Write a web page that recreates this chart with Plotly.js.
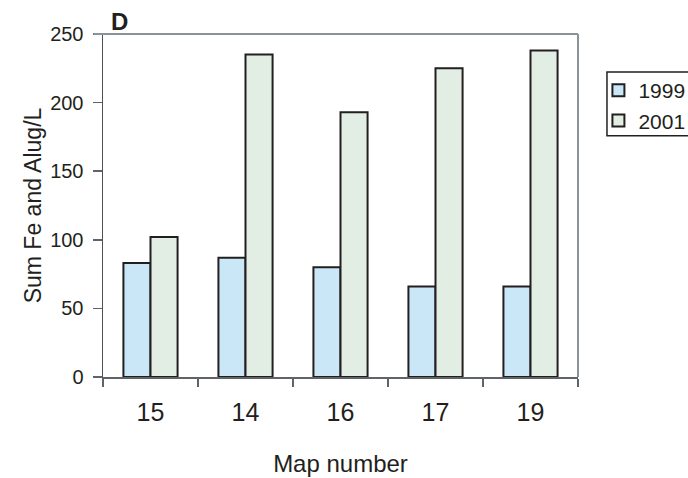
<!DOCTYPE html>
<html>
<head>
<meta charset="utf-8">
<script src="https://cdn.plot.ly/plotly-3.0.1.min.js"></script>
<style>
  html, body { margin: 0; padding: 0; background: #ffffff; }
  #chart { width: 688px; height: 478px; }
</style>
</head>
<body>
<div id="chart"></div>
<script>
// Map numbers (category order as plotted) and summed Fe + Al per year
const mapNumbers = ['15', '14', '16', '17', '19'];
const sum1999 = [83, 87, 80, 66, 66];
const sum2001 = [102, 235, 193, 225, 238];
const seriesNames = ['1999', '2001'];

const font = 'Liberation Sans, Arial, Helvetica, sans-serif';
const ink = '#231f20';

const traces = [
  {
    type: 'bar',
    name: seriesNames[0],
    x: mapNumbers,
    y: sum1999,
    marker: { color: '#c9e7f7', line: { color: '#231f20', width: 2 } }
  },
  {
    type: 'bar',
    name: seriesNames[1],
    x: mapNumbers,
    y: sum2001,
    marker: { color: '#e2ede3', line: { color: '#231f20', width: 2 } }
  }
];

const layout = {
  width: 688,
  height: 478,
  margin: { l: 103, r: 110, t: 34, b: 101, autoexpand: false },
  paper_bgcolor: '#ffffff',
  plot_bgcolor: '#ffffff',
  font: { family: font, color: ink },
  barmode: 'group',
  bargap: 0.43,
  bargroupgap: 0,
  showlegend: true,
  legend: {
    x: 1.043, xanchor: 'left',
    y: 0.895, yanchor: 'top',
    bgcolor: 'rgba(0,0,0,0)',
    borderwidth: 0,
    font: { family: font, size: 21, color: ink },
    tracegroupgap: 0,
    itemwidth: 30
  },
  xaxis: {
    type: 'category',
    showgrid: false,
    zeroline: false,
    showline: true,
    linecolor: '#5f6469',
    linewidth: 1.5,
    ticks: 'outside',
    tickson: 'boundaries',
    ticklen: 8,
    tickcolor: '#5f6469',
    tickwidth: 1.5,
    ticklabelstandoff: 12,
    tickfont: { family: font, size: 25, color: ink },
    title: { text: 'Map number', font: { family: font, size: 24, color: ink }, standoff: 30 },
    automargin: true
  },
  yaxis: {
    range: [0, 250],
    dtick: 50,
    showgrid: false,
    zeroline: false,
    showline: true,
    linecolor: '#4d5257',
    linewidth: 1.5,
    ticks: 'outside',
    ticklen: 9,
    tickcolor: '#5f6469',
    tickwidth: 1.5,
    ticklabelstandoff: 5,
    tickfont: { family: font, size: 20, color: ink },
    title: { text: 'Sum Fe and Alug/L', font: { family: font, size: 23, color: ink }, standoff: 2 },
    automargin: true
  },
  shapes: [
    // light frame along the top and right of the plot area
    { type: 'line', xref: 'paper', yref: 'paper', x0: -0.02, x1: 1, y0: 1, y1: 1,
      line: { color: '#8b9397', width: 2 } },
    { type: 'line', xref: 'paper', yref: 'paper', x0: 1, x1: 1, y0: 0, y1: 1,
      line: { color: '#8b9397', width: 2 } },
    // legend frame
    { type: 'rect', xref: 'paper', yref: 'paper', x0: 1.061, x1: 1.25, y0: 0.703, y1: 0.889,
      line: { color: '#231f20', width: 1.5 }, fillcolor: 'rgba(0,0,0,0)' }
  ],
  annotations: [
    { text: '<b>D</b>', xref: 'paper', yref: 'paper', x: 0.012, y: 1, xanchor: 'left', yanchor: 'bottom',
      showarrow: false, font: { family: font, size: 24, color: ink }, yshift: -3 }
  ]
};

Plotly.newPlot('chart', traces, layout, { displayModeBar: false, staticPlot: true });
</script>
</body>
</html>
